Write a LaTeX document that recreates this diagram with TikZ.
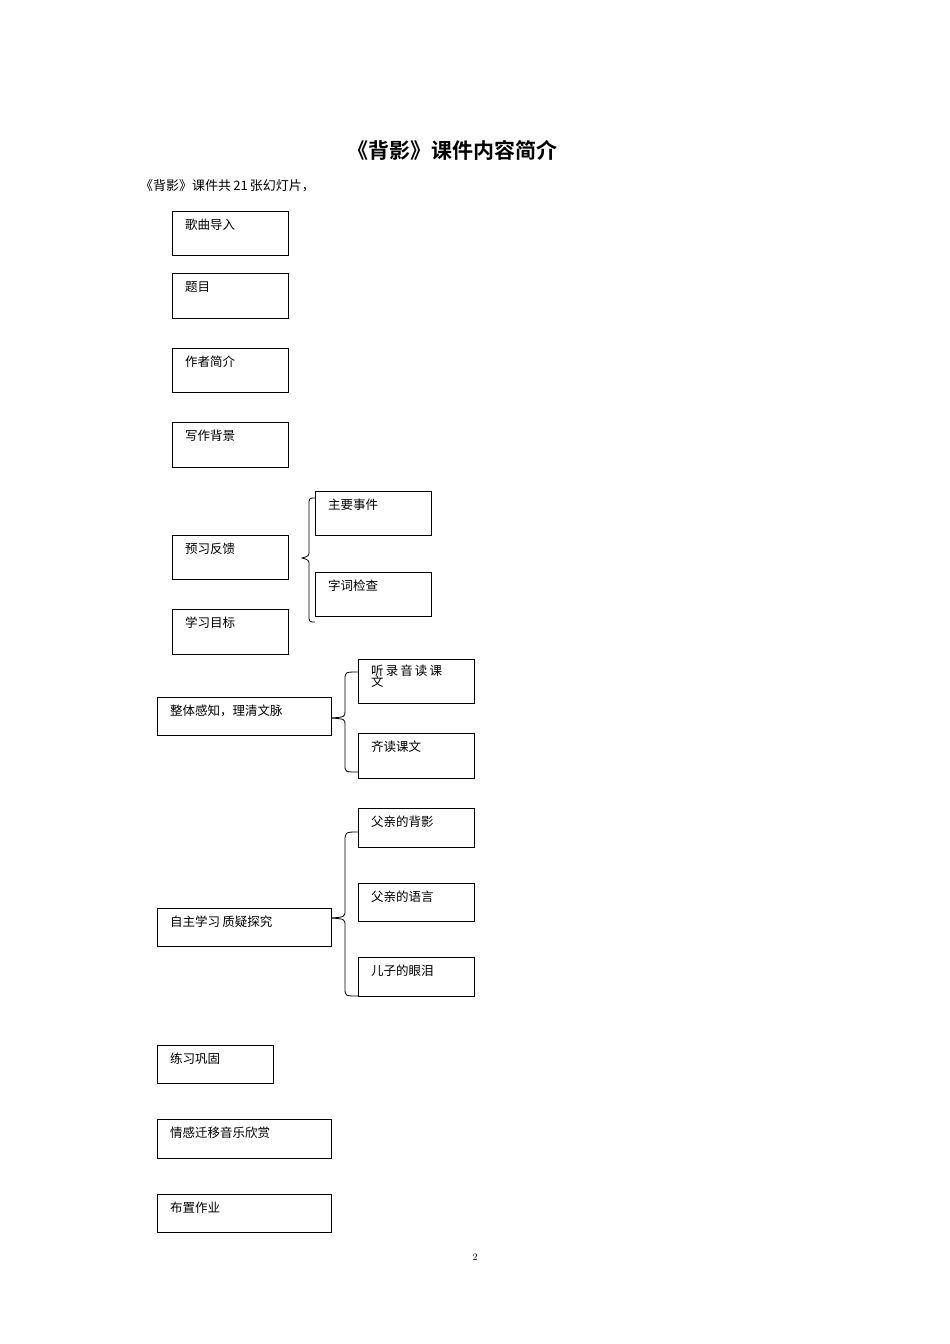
\documentclass[tikz,border=0pt]{standalone}
\usepackage{fontspec}
\newfontfamily\cjk{Noto Sans CJK SC}
\newfontfamily\cjkb{Noto Sans CJK SC Bold}
\begin{document}
\begin{tikzpicture}[x=1pt,y=-1pt,
  bx/.style={draw,line width=0.9pt},
  lb/.style={anchor=north west,inner sep=0pt,font=\cjk\fontsize{12.5}{14}\selectfont},
  br/.style={line width=0.8pt}]
\useasboundingbox (0,0) rectangle (950,1344);
\newcommand\bxn[6]{\draw[bx] (#2,#3) rectangle (#4,#5); \node[lb] (#1) at (#2+13,#3+8) {#6};}
\node[font=\cjkb\fontsize{21}{24}\selectfont] (title) at (452,150) {《背影》课件内容简介};
\node[anchor=west,inner sep=0pt,font=\cjk\fontsize{13}{15}\selectfont] (intro) at (140,186) {《背影》课件共\,21\,张幻灯片，};
\bxn{a}{172}{211}{288}{255}{歌曲导入}
\bxn{b}{172}{273}{288}{318}{题目}
\bxn{c}{172}{348}{288}{392}{作者简介}
\bxn{d}{172}{422}{288}{467}{写作背景}
\bxn{e}{172}{535}{288}{579}{预习反馈}
\bxn{f}{172}{609}{288}{654}{学习目标}
\bxn{e1}{315}{491}{431}{535}{主要事件}
\bxn{e2}{315}{572}{431}{616}{字词检查}
\bxn{g}{157}{697}{331}{735}{整体感知，理清文脉}
\draw[bx] (358,659) rectangle (474,703);
\node[lb,align=left] (g1) at (371,665) {听\,录\,音\,读\,课\\[-3pt]文};
\bxn{g2}{358}{733}{474}{778}{齐读课文}
\bxn{h}{157}{908}{331}{946}{自主学习\,质疑探究}
\bxn{h1}{358}{808}{474}{847}{父亲的背影}
\bxn{h2}{358}{883}{474}{921}{父亲的语言}
\bxn{h3}{358}{957}{474}{996}{儿子的眼泪}
\bxn{i}{157}{1045}{273}{1083}{练习巩固}
\bxn{j}{157}{1119}{331}{1158}{情感迁移音乐欣赏}
\bxn{k}{157}{1194}{331}{1232}{布置作业}
% braces
\draw[br] (315,498) .. controls (309,498) .. (309,506) -- (309,550) .. controls (309,556) .. (302,558) .. controls (309,560) .. (309,566) -- (309,614) .. controls (309,622) .. (315,622);
\draw[br] (358,672) .. controls (345,672) .. (345,680) -- (345,711) .. controls (345,717) .. (331,718) .. controls (345,719) .. (345,725) -- (345,765) .. controls (345,772) .. (358,772);
\draw[br] (358,832) .. controls (345,832) .. (345,842) -- (345,910) .. controls (345,917) .. (331,918) .. controls (345,919) .. (345,926) -- (345,988) .. controls (345,996) .. (358,996);
\node[font=\fontsize{10}{12}\selectfont] (pg) at (475,1257) {2};
\end{tikzpicture}
\end{document}
